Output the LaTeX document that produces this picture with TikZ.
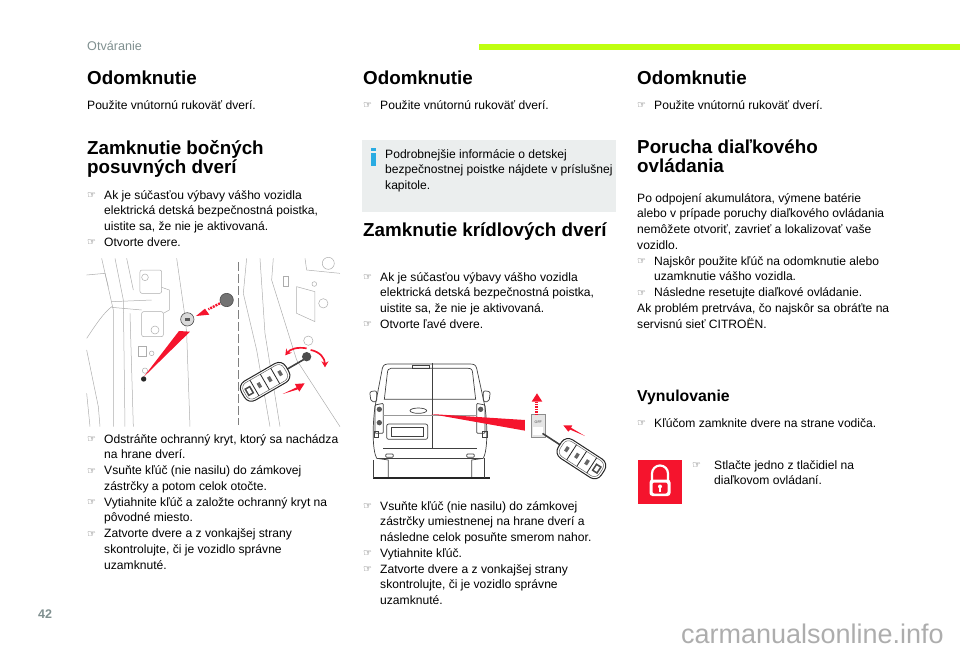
\documentclass[tikz,border=0pt]{standalone}
\usepackage{fontspec}
\setmainfont{Liberation Sans}
\newfontfamily\handfont{DejaVu Sans}
\usetikzlibrary{arrows.meta}
\definecolor{pagegray}{HTML}{7F8F8F}
\definecolor{barlime}{HTML}{BFFF10}
\definecolor{boxgray}{HTML}{EBEEEE}
\definecolor{infoblue}{HTML}{29ABE2}
\definecolor{warnred}{HTML}{F5142D}
\newcommand{\handmark}{\makebox[17pt][l]{\raisebox{0.5pt}{\handfont\fontsize{10}{10}\selectfont\textcolor{black!75}{☞}}}}
\newcommand{\handgap}{\hspace*{17pt}}
\begin{document}
\begin{tikzpicture}[
            x=1pt, y=-1pt,
            bodytext/.style={anchor=north west, inner sep=0pt, align=left, font=\fontsize{12.1}{15.75}\selectfont, execute at begin node={\rule{0pt}{10pt}}},
            headtext/.style={anchor=north west, inner sep=0pt, align=left, font=\fontsize{18.8}{18.8}\selectfont\bfseries, execute at begin node={\rule{0pt}{14pt}}},
            subhead/.style={anchor=north west, inner sep=0pt, font=\fontsize{15.8}{16}\selectfont\bfseries},
            sketch/.style={draw=black!32, line width=0.5pt},
            vanline/.style={draw=black!75, line width=0.7pt},
            redwedge/.style={fill=warnred, draw=none},
            redarrow/.style={draw=warnred, line width=1.7pt, -{Stealth[length=6pt,width=7pt]}},
            keyfob/.pic={
                \draw[draw=black!75, line width=1.6pt] (60,0) -- (128,0);
                \draw[draw=black!85, fill=white, line width=1pt, rounded corners=8pt] (-88,-33) rectangle (66,33);
                \draw[draw=black!60, line width=0.5pt, rounded corners=6pt] (-81,-27) rectangle (59,27);
                \foreach \xpos in {-48,-12,24} {
                    \draw[draw=black!85, line width=0.8pt] (\xpos,-27) -- (\xpos,27);
                    \fill[black!60] (\xpos+12,-8) rectangle (\xpos+22,8);
                }
                \fill[black!70] (-76,-13) rectangle (-56,13);
                \fill[white] (-71,-8) rectangle (-61,8);
            }
        ]
        \useasboundingbox (0,0) rectangle (960,649);
        % page header and footer
        \fill[barlime] (479,44) rectangle (960,50);
        \node[anchor=base west, inner sep=0pt, text=pagegray, font=\fontsize{12.6}{13}\selectfont] (pagetitle) at (87,50) {Otváranie};
        \node[anchor=base west, inner sep=0pt, text=pagegray, font=\fontsize{12.5}{13}\selectfont\bfseries] (pagenumber) at (38,618) {42};
        \node[anchor=base east, inner sep=0pt, text=black!32, font=\fontsize{27}{30}\selectfont] (watermark) at (944,643) {carmanualsonline.info};
        % left column
        \node[headtext] (lefthead) at (87,70) {Odomknutie};
        \node[bodytext] (leftopen) at (87,99) {Použite vnútornú rukoväť dverí.};
        \node[headtext] (sidehead) at (87,140) {Zamknutie bočných\\posuvných dverí};
        \node[bodytext] (sidelist) at (87,190) {\handmark Ak je súčasťou výbavy vášho vozidla\\
            \handgap elektrická detská bezpečnostná poistka,\\
            \handgap uistite sa, že nie je aktivovaná.\\
            \handmark Otvorte dvere.};
        \node[bodytext] (sidesteps) at (87,434) {\handmark Odstráňte ochranný kryt, ktorý sa nachádza\\
            \handgap na hrane dverí.\\
            \handmark Vsuňte kľúč (nie nasilu) do zámkovej\\
            \handgap zástrčky a potom celok otočte.\\
            \handmark Vytiahnite kľúč a založte ochranný kryt na\\
            \handgap pôvodné miesto.\\
            \handmark Zatvorte dvere a z vonkajšej strany\\
            \handgap skontrolujte, či je vozidlo správne\\
            \handgap uzamknuté.};
        % middle column
        \node[headtext] (midhead) at (363,70) {Odomknutie};
        \node[bodytext] (midopen) at (363,99) {\handmark Použite vnútornú rukoväť dverí.};
        \fill[boxgray] (362,140) rectangle (616,212);
        \fill[infoblue] (371,148) rectangle (376,151);
        \fill[infoblue] (371,153) rectangle (376,166);
        \node[bodytext] (infotext) at (385,149) {Podrobnejšie informácie o detskej\\bezpečnostnej poistke nájdete v príslušnej\\kapitole.};
        \node[headtext] (winghead) at (363,222) {Zamknutie krídlových dverí};
        \node[bodytext] (winglist) at (363,272) {\handmark Ak je súčasťou výbavy vášho vozidla\\
            \handgap elektrická detská bezpečnostná poistka,\\
            \handgap uistite sa, že nie je aktivovaná.\\
            \handmark Otvorte ľavé dvere.};
        \node[bodytext] (wingsteps) at (363,501) {\handmark Vsuňte kľúč (nie nasilu) do zámkovej\\
            \handgap zástrčky umiestnenej na hrane dverí a\\
            \handgap následne celok posuňte smerom nahor.\\
            \handmark Vytiahnite kľúč.\\
            \handmark Zatvorte dvere a z vonkajšej strany\\
            \handgap skontrolujte, či je vozidlo správne\\
            \handgap uzamknuté.};
        % right column
        \node[headtext] (righthead) at (637,70) {Odomknutie};
        \node[bodytext] (rightopen) at (637,99) {\handmark Použite vnútornú rukoväť dverí.};
        \node[headtext] (faulthead) at (637,140) {Porucha diaľkového\\ovládania};
        \node[bodytext] (faulttext) at (637,193) {Po odpojení akumulátora, výmene batérie\\
            alebo v prípade poruchy diaľkového ovládania\\
            nemôžete otvoriť, zavrieť a lokalizovať vaše\\
            vozidlo.\\
            \handmark Najskôr použite kľúč na odomknutie alebo\\
            \handgap uzamknutie vášho vozidla.\\
            \handmark Následne resetujte diaľkové ovládanie.\\
            Ak problém pretrváva, čo najskôr sa obráťte na\\
            servisnú sieť CITROËN.};
        \node[subhead] (resethead) at (637,390) {Vynulovanie};
        \node[bodytext] (resetkey) at (637,417) {\handmark Kľúčom zamknite dvere na strane vodiča.};
        \node[bodytext] (resethand) at (692,460) {\makebox[22pt][l]{\handmark}Stlačte jedno z tlačidiel na\\\hspace*{22pt}diaľkovom ovládaní.};
        % lock icon
        \fill[warnred] (638,460) rectangle (682,504);
        \draw[white, line width=2.2pt] (652,481) -- (652,473.5) arc[start angle=180, end angle=360, radius=8] -- (668,481);
        \fill[white, rounded corners=3pt] (649.5,479.5) rectangle (670.5,496);
        \fill[warnred, rounded corners=2pt] (652.5,482.5) rectangle (667.5,493.5);
        \fill[white] (660,486.5) circle (2);
        \fill[white] (659,486.5) rectangle (661,491.5);
        % door picture
        \begin{scope}[shift={(80,250)}, scale=0.3333]
            \draw[sketch] (20,75) -- (75,70) -- (85,110);
            \draw[sketch] (65,25) -- (100,180) -- (100,530);
            \draw[sketch] (105,25) -- (130,150) -- (135,530);
            \draw[sketch] (140,25) -- (160,120);
            \draw[sketch] (150,190) -- (160,530);
            \draw[sketch] (20,300) -- (55,470) -- (60,530);
            \draw[sketch] (20,265) .. controls (50,220) and (70,190) .. (95,170);
            \draw[sketch] (95,155) -- (215,150);
            \draw[sketch] (95,172) -- (185,180);
            \draw[sketch, rounded corners=2pt, fill=white] (180,60) -- (245,60) -- (245,130) -- (180,130) -- cycle;
            \draw[sketch] (195,82) circle (10);
            \draw[sketch] (245,112) -- (268,120) -- (268,180) -- (250,190);
            \draw[sketch, rounded corners=2pt, fill=white] (185,185) -- (250,185) -- (250,260) -- (185,260) -- cycle;
            \draw[sketch] (225,240) circle (12);
            \draw[sketch] (290,25) -- (315,200) -- (320,250) -- (330,530);
            \draw[sketch] (175,290) -- (200,290) -- (200,320) -- (175,320) -- cycle;
            \draw[sketch] (215,310) circle (7);
            \draw[sketch] (195,362) circle (8);
            \draw[sketch] (20,430) -- (30,530);
            \draw[sketch] (490,130) -- (530,300) -- (570,530);
            \draw[sketch] (500,25) -- (490,130);
            \draw[sketch] (540,25) -- (555,250) -- (600,530);
            \draw[sketch] (580,25) -- (575,90) -- (650,330) -- (780,530);
            \draw[sketch] (675,25) -- (680,60) -- (780,70);
            \draw[sketch] (745,40) circle (18);
            \draw[sketch] (703,102) circle (7);
            \draw[sketch] (650,110) -- (705,125) -- (705,215) -- (650,190) -- cycle;
            \draw[sketch] (730,160) circle (14);
            \draw[sketch] (685,272) circle (14);
            \draw[sketch] (610,80) -- (625,80) -- (625,110) -- (610,110) -- cycle;
            \draw[draw=black!50, line width=1pt, dash pattern=on 9pt off 3pt] (475,36) -- (475,525);
            \fill[redwedge] (330,245) -- (297,243) -- (190,382) -- cycle;
            \fill[black!85] (191,387) circle (8);
            \draw[draw=black!70, fill=black!15, line width=0.6pt] (322,208) circle (20);
            \fill[black!65] (315,205) rectangle (330,212);
            \draw[draw=black!70, fill=black!55, line width=0.6pt] (440,150) circle (20);
            \draw[draw=warnred, line width=2.4pt, dash pattern=on 2pt off 1pt] (420,160) -- (385,178);
            \fill[redwedge] (375,176) -- (388,194) -- (348,198) -- cycle;
            \draw[redarrow] (680,295) .. controls (650,290) and (630,298) .. (616,316);
            \draw[redarrow] (692,300) .. controls (720,305) and (735,325) .. (735,352);
            \fill[redwedge] (608,432) -- (650,412) -- (645,402) -- (674,400) -- (658,425) -- (654,418) -- cycle;
            \pic[transform shape, rotate=30] (fobdoor) at (565,390) {keyfob};
            \fill[black!70] (680,320) circle (14);
        \end{scope}
        % van picture
        \begin{scope}[shift={(355,350)}, scale=0.3333]
            \draw[vanline] (100,382) -- (100,330) -- (65,325) .. controls (52,300) and (52,230) .. (60,170) -- (82,55) .. controls (85,45) and (90,42) .. (100,42) -- (345,42) .. controls (358,42) and (362,45) .. (365,55) -- (390,170) .. controls (398,230) and (398,300) .. (385,325) -- (350,330) -- (350,382);
            \draw[vanline] (108,55) -- (340,55) .. controls (350,55) and (352,60) .. (353,70) -- (362,148) -- (88,148) -- (97,70) .. controls (98,60) and (100,55) .. (108,55) -- cycle;
            \draw[vanline] (172,47) rectangle (222,55);
            \draw[vanline] (232,40) -- (232,295);
            \draw[vanline, rounded corners=2pt] (44,125) -- (65,122) -- (65,155) -- (48,155) -- cycle;
            \draw[vanline, rounded corners=2pt] (385,122) -- (406,125) -- (402,155) -- (385,155) -- cycle;
            \draw[vanline, rounded corners=1pt] (60,165) -- (85,160) -- (85,250) -- (60,250) -- cycle;
            \draw[vanline, rounded corners=1pt] (365,160) -- (390,165) -- (390,250) -- (365,250) -- cycle;
            \fill[black!65] (73,178) circle (8);
            \fill[black!65] (73,218) circle (8);
            \fill[black!65] (377,178) circle (8);
            \draw[vanline] (58,245) rectangle (70,262);
            \draw[vanline] (382,245) rectangle (397,262);
            \draw[vanline] (190,182) ellipse (25 and 8);
            \draw[draw=black!40, line width=0.5pt] (85,195) -- (365,195);
            \draw[vanline, rounded corners=2pt] (95,222) rectangle (218,268);
            \draw[vanline] (108,232) rectangle (205,260);
            \draw[vanline] (85,295) -- (365,295);
            \draw[vanline, rounded corners=1pt] (92,312) rectangle (115,322);
            \draw[vanline, rounded corners=1pt] (335,312) rectangle (358,322);
            \draw[vanline] (65,325) -- (385,325);
            \draw[draw=black!85, line width=1.2pt] (55,384) -- (405,384);
            \draw[vanline] (55,384) -- (55,330);
            \draw[vanline] (388,384) -- (388,325);
            \fill[redwedge] (228,192) -- (510,210) -- (510,242) -- cycle;
            \draw[draw=black!45, fill=black!10, line width=0.5pt] (530,192) rectangle (570,262);
            \fill[white] (535,232) rectangle (565,256);
            \node[inner sep=0pt, text=black!75, font=\fontsize{3.6}{4}\selectfont] (offlabel) at (550,218) {OFF};
            \draw[draw=warnred, line width=3pt, dash pattern=on 1.5pt off 1pt] (545,195) -- (545,155);
            \fill[redwedge] (530,155) -- (562,155) -- (546,130) -- cycle;
            \fill[redwedge] (690,258) -- (646,239) -- (640,245) -- (625,226) -- (652,226) -- (648,233) -- cycle;
            \pic[transform shape, rotate=147] (fobvan) at (670,320) {keyfob};
        \end{scope}
\end{tikzpicture}
\end{document}
